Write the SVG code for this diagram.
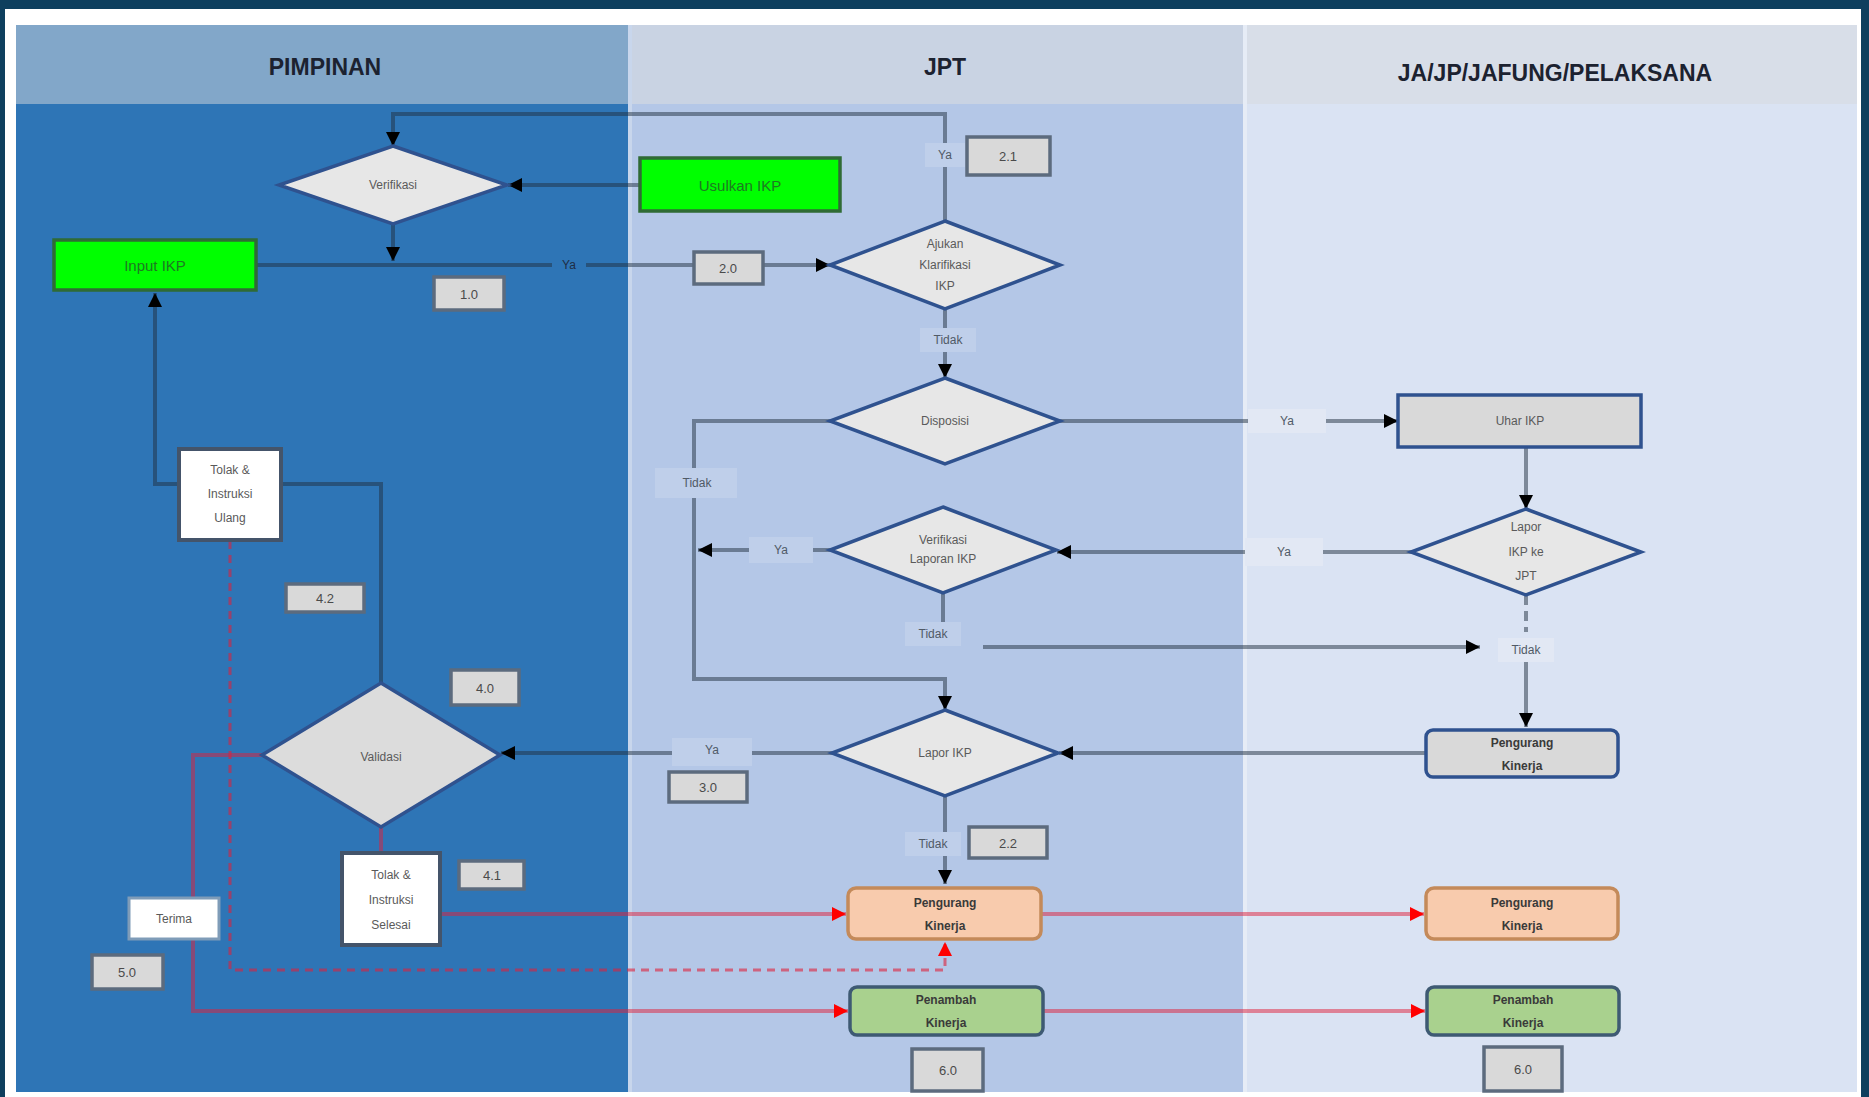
<svg xmlns="http://www.w3.org/2000/svg" width="1869" height="1097" viewBox="0 0 1869 1097">
<style>
text{font-family:"Liberation Sans","DejaVu Sans",sans-serif;text-anchor:middle;dominant-baseline:central}
.hd{font-weight:bold;font-size:23px;fill:#1c2230}
.dia{fill:#e7e7e7;stroke:#2f528f;stroke-width:3.5}
.dt{font-size:12px;fill:#5a5a5a}
.num{fill:#d9d9d9;stroke:#5c6b7e;stroke-width:3.5}
.nt{font-size:13px;fill:#4a4a4a}
.grn{fill:#00ff00;stroke:#2f6b35;stroke-width:3.5}
.gt{font-size:15px;fill:#1e7a22}
.gry{fill:#d9d9d9;stroke:#2f528f;stroke-width:3.5}
.wht{fill:#ffffff;stroke:#44546a;stroke-width:4}
.org{fill:#f8cbad;stroke:#c48a5a;stroke-width:3.5}
.pgr{fill:#a9d18e;stroke:#3e5a73;stroke-width:3.5}
.bt{font-size:12px;fill:#3a3a3a;font-weight:bold}
.c{fill:none;stroke:#203040;stroke-opacity:0.5;stroke-width:4}
.r{fill:none;stroke:#e0203a;stroke-opacity:0.5;stroke-width:4}
.rd{fill:none;stroke:#e0203a;stroke-opacity:0.6;stroke-width:3;stroke-dasharray:8 6}
.lb{font-size:12px;fill:#505a66}
.b2{fill:#bfcfea}
.b3{fill:#e2e8f4}
</style>
<defs>
<marker id="ab" markerUnits="userSpaceOnUse" markerWidth="14" markerHeight="14" viewBox="0 0 10 10" refX="10" refY="5" orient="auto"><path d="M0,0 L10,5 L0,10 z" fill="#000"/></marker>
<marker id="ar" markerUnits="userSpaceOnUse" markerWidth="14" markerHeight="14" viewBox="0 0 10 10" refX="10" refY="5" orient="auto"><path d="M0,0 L10,5 L0,10 z" fill="#ff0000"/></marker>
</defs>
<rect x="0" y="0" width="1869" height="1097" fill="#0e3f5e"/>
<rect x="5" y="9" width="1856" height="1088" fill="#ffffff"/>
<g id="lanes">
<rect x="16" y="25" width="612" height="79" fill="#82a7c9"/>
<rect x="16" y="104" width="612" height="988" fill="#2e75b6"/>
<rect x="628" y="25" width="615" height="79" fill="#c9d3e3"/>
<rect x="628" y="104" width="615" height="988" fill="#b4c7e7"/>
<rect x="1243" y="25" width="614" height="79" fill="#d8dee8"/>
<rect x="1243" y="104" width="614" height="988" fill="#dae3f3"/>
<rect x="628" y="25" width="4" height="1067" fill="#c8d6ec"/>
<rect x="1243" y="25" width="4" height="1067" fill="#e6ecf6"/>
<text class="hd" x="325" y="67">PIMPINAN</text>
<text class="hd" x="945" y="67">JPT</text>
<text class="hd" x="1555" y="73">JA/JP/JAFUNG/PELAKSANA</text>
</g>
<g id="connectors">
<path class="c" d="M945,221 V114 H393 V146" marker-end="url(#ab)"/>
<path class="c" d="M640,185 H508" marker-end="url(#ab)"/>
<path class="c" d="M393,224 V261" marker-end="url(#ab)"/>
<path class="c" d="M256,265 H830" marker-end="url(#ab)"/>
<path class="c" d="M945,309 V378" marker-end="url(#ab)"/>
<path class="c" d="M1060,421 H1398" marker-end="url(#ab)"/>
<path class="c" d="M830,421 H694 V679 H945 V710" marker-end="url(#ab)"/>
<path class="c" d="M1526,447 V509" marker-end="url(#ab)"/>
<path class="c" d="M1411,552 H1057" marker-end="url(#ab)"/>
<path class="c" d="M830,550 H698" marker-end="url(#ab)"/>
<path class="c" d="M943,593 V622"/>
<path class="c" d="M983,647 H1480" marker-end="url(#ab)"/>
<path class="c" d="M1526,595 V632" stroke-dasharray="10 6"/>
<path class="c" d="M1526,662 V727" marker-end="url(#ab)"/>
<path class="c" d="M1426,753 H1059" marker-end="url(#ab)"/>
<path class="c" d="M832,753 H501" marker-end="url(#ab)"/>
<path class="c" d="M945,796 V884" marker-end="url(#ab)"/>
<path class="c" d="M381,683 V484 H281"/>
<path class="c" d="M179,484 H155 V293" marker-end="url(#ab)"/>
<path class="r" d="M381,826 V853"/>
<path class="r" d="M440,914 H846" marker-end="url(#ar)"/>
<path class="r" d="M1041,914 H1424" marker-end="url(#ar)"/>
<path class="r" d="M262,755 H193 V1011 H848" marker-end="url(#ar)"/>
<path class="r" d="M1043,1011 H1425" marker-end="url(#ar)"/>
<path class="rd" d="M230,541 V970 H945 V942" marker-end="url(#ar)"/>
<rect class="b2" x="925" y="143" width="40" height="24"/><text class="lb" x="945" y="155">Ya</text>
<rect x="552" y="254" width="34" height="22" fill="#2e75b6"/><text class="lb" x="569" y="265" style="fill:#1f2d44">Ya</text>
<rect class="b2" x="920" y="328" width="56" height="24"/><text class="lb" x="948" y="340">Tidak</text>
<rect class="b3" x="1248" y="409" width="78" height="24"/><text class="lb" x="1287" y="421">Ya</text>
<rect class="b2" x="655" y="468" width="82" height="30"/><text class="lb" x="697" y="483">Tidak</text>
<rect class="b3" x="1245" y="538" width="78" height="28"/><text class="lb" x="1284" y="552">Ya</text>
<rect class="b2" x="749" y="537" width="64" height="26"/><text class="lb" x="781" y="550">Ya</text>
<rect class="b2" x="905" y="622" width="56" height="24"/><text class="lb" x="933" y="634">Tidak</text>
<rect class="b3" x="1498" y="638" width="56" height="24"/><text class="lb" x="1526" y="650">Tidak</text>
<rect class="b2" x="672" y="738" width="80" height="28"/><text class="lb" x="712" y="750">Ya</text>
<rect class="b2" x="905" y="832" width="56" height="24"/><text class="lb" x="933" y="844">Tidak</text>
</g>
<g id="verifikasi"><polygon class="dia" points="393,146 507,185 393,224 279,185"/><text class="dt" x="393" y="185">Verifikasi</text></g>
<g id="usulkan"><rect class="grn" x="640" y="158" width="200" height="53"/><text class="gt" x="740" y="185">Usulkan IKP</text></g>
<g id="input"><rect class="grn" x="54" y="240" width="202" height="50"/><text class="gt" x="155" y="265">Input IKP</text></g>
<g id="n21"><rect class="num" x="967" y="137" width="83" height="38"/><text class="nt" x="1008" y="156">2.1</text></g>
<g id="n20"><rect class="num" x="694" y="252" width="69" height="32"/><text class="nt" x="728" y="268">2.0</text></g>
<g id="n10"><rect class="num" x="434" y="277" width="70" height="33"/><text class="nt" x="469" y="294">1.0</text></g>
<g id="ajukan"><polygon class="dia" points="945,221 1060,265 945,309 830,265"/><text class="dt" x="945" y="244">Ajukan</text><text class="dt" x="945" y="265">Klarifikasi</text><text class="dt" x="945" y="286">IKP</text></g>
<g id="disposisi"><polygon class="dia" points="945,378 1060,421 945,464 830,421"/><text class="dt" x="945" y="421" font-size="16">Disposisi</text></g>
<g id="uhar"><rect class="gry" x="1398" y="395" width="243" height="52"/><text class="dt" x="1520" y="421" font-size="15">Uhar IKP</text></g>
<g id="verlap"><polygon class="dia" points="943,507 1056,550 943,593 830,550"/><text class="dt" x="943" y="540" font-size="11">Verifikasi</text><text class="dt" x="943" y="559" font-size="11">Laporan IKP</text></g>
<g id="laporjpt"><polygon class="dia" points="1526,509 1641,552 1526,595 1411,552"/><text class="dt" x="1526" y="527" font-size="13">Lapor</text><text class="dt" x="1526" y="552" font-size="13">IKP ke</text><text class="dt" x="1526" y="576" font-size="13">JPT</text></g>
<g id="pengurang-gray"><rect class="gry" x="1426" y="730" width="192" height="47" rx="7"/><text class="bt" x="1522" y="743">Pengurang</text><text class="bt" x="1522" y="766">Kinerja</text></g>
<g id="lapor"><polygon class="dia" points="945,710 1058,753 945,796 832,753"/><text class="dt" x="945" y="753" font-size="11">Lapor IKP</text></g>
<g id="validasi"><polygon class="dia" points="381,683 500,755 381,827 262,755" style="fill:#dcdcdc"/><text class="dt" x="381" y="757" font-size="18">Validasi</text></g>
<g id="n30"><rect class="num" x="669" y="772" width="78" height="30"/><text class="nt" x="708" y="787">3.0</text></g>
<g id="n40"><rect class="num" x="451" y="670" width="68" height="35"/><text class="nt" x="485" y="688">4.0</text></g>
<g id="n42"><rect class="num" x="286" y="584" width="78" height="28"/><text class="nt" x="325" y="598">4.2</text></g>
<g id="n22"><rect class="num" x="969" y="827" width="78" height="31"/><text class="nt" x="1008" y="843">2.2</text></g>
<g id="tolakulang"><rect class="wht" x="179" y="449" width="102" height="91"/><text class="dt" x="230" y="470">Tolak &amp;</text><text class="dt" x="230" y="494">Instruksi</text><text class="dt" x="230" y="518">Ulang</text></g>
<g id="tolakselesai"><rect class="wht" x="342" y="853" width="98" height="92"/><text class="dt" x="391" y="875">Tolak &amp;</text><text class="dt" x="391" y="900">Instruksi</text><text class="dt" x="391" y="925">Selesai</text></g>
<g id="n41"><rect class="num" x="459" y="861" width="65" height="28"/><text class="nt" x="492" y="875">4.1</text></g>
<g id="terima"><rect x="129" y="898" width="90" height="41" fill="#ffffff" stroke="#7f9cb8" stroke-width="3"/><text class="dt" x="174" y="919">Terima</text></g>
<g id="n50"><rect class="num" x="92" y="955" width="71" height="34"/><text class="nt" x="127" y="972">5.0</text></g>
<g id="pengurang1"><rect class="org" x="848" y="888" width="193" height="51" rx="8"/><text class="bt" x="945" y="903">Pengurang</text><text class="bt" x="945" y="926">Kinerja</text></g>
<g id="pengurang2"><rect class="org" x="1426" y="888" width="192" height="51" rx="8"/><text class="bt" x="1522" y="903">Pengurang</text><text class="bt" x="1522" y="926">Kinerja</text></g>
<g id="penambah1"><rect class="pgr" x="850" y="987" width="193" height="48" rx="7"/><text class="bt" x="946" y="1000">Penambah</text><text class="bt" x="946" y="1023">Kinerja</text></g>
<g id="penambah2"><rect class="pgr" x="1427" y="987" width="192" height="48" rx="7"/><text class="bt" x="1523" y="1000">Penambah</text><text class="bt" x="1523" y="1023">Kinerja</text></g>
<g id="n60a"><rect class="num" x="912" y="1049" width="71" height="42"/><text class="nt" x="948" y="1070">6.0</text></g>
<g id="n60b"><rect class="num" x="1484" y="1047" width="78" height="44"/><text class="nt" x="1523" y="1069">6.0</text></g>
</svg>
